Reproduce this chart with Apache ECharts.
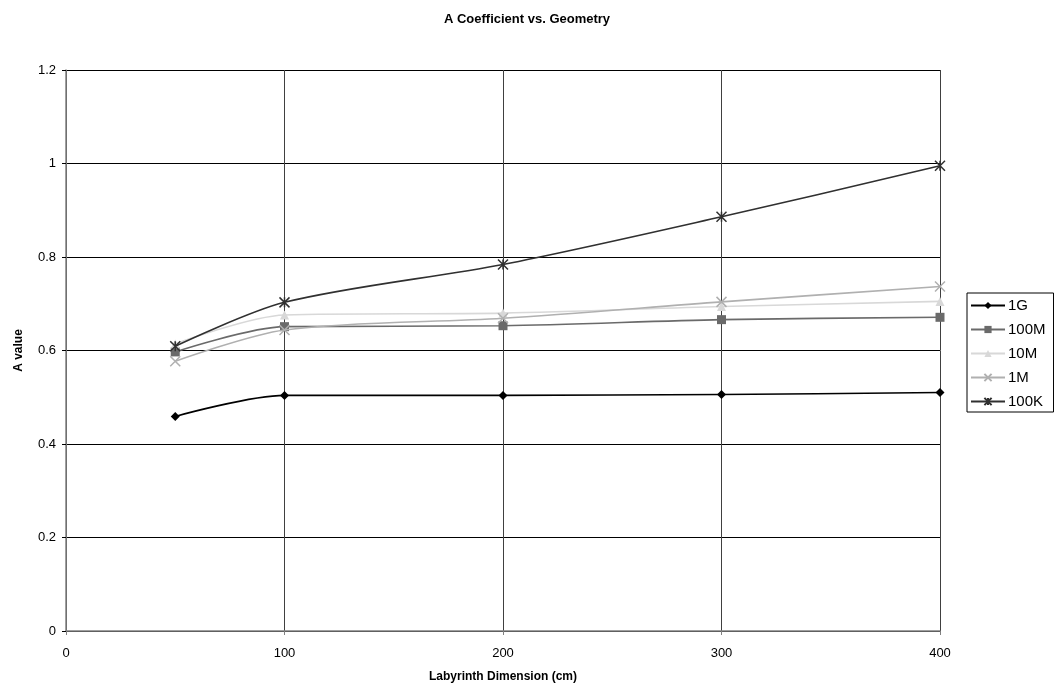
<!DOCTYPE html>
<html>
<head>
<meta charset="utf-8">
<script src="https://cdn.jsdelivr.net/npm/echarts@6/dist/echarts.min.js"></script>
<style>
  html, body { margin: 0; padding: 0; background: #fff; }
  #chart { width: 1054px; height: 696px; }
</style>
</head>
<body>
<div id="chart"></div>
<script>
// Labyrinth dimension (cm) for each measurement
const dimensions = [50, 100, 200, 300, 400];

// A value per frequency
const seriesNames = ['1G', '100M', '10M', '1M', '100K'];
const values1G   = [0.459, 0.504, 0.504, 0.506, 0.510];
const values100M = [0.597, 0.651, 0.653, 0.666, 0.671];
const values10M  = [0.614, 0.676, 0.680, 0.694, 0.705];
const values1M   = [0.577, 0.644, 0.669, 0.704, 0.737];
const values100K = [0.609, 0.703, 0.784, 0.886, 0.995];

const allValues = [values1G, values100M, values10M, values1M, values100K];
const colors  = ['#000000', '#6a6a6a', '#d8d8d8', '#b0b0b0', '#303030'];
const symbols = ['diamond', 'rect', 'triangle', 'path://M0,0L10,10M10,0L0,10', 'path://M0,0L10,10M10,0L0,10M5,0L5,10'];
const symbolSizes = [9, 9, 9, 10, 10];

const font = 'Liberation Sans, Arial, sans-serif';

const series = seriesNames.map((name, i) => {
  const isCross = i >= 3;
  return {
    name: name,
    type: 'line',
    smooth: 0.3,
    data: dimensions.map((d, j) => [d, allValues[i][j]]),
    symbol: symbols[i],
    symbolSize: symbolSizes[i],
    showAllSymbol: true,
    lineStyle: { color: colors[i], width: 1.6 },
    itemStyle: isCross
      ? { color: 'transparent', borderColor: colors[i], borderWidth: 1.5 }
      : { color: colors[i], borderWidth: 0 },
    z: 3 + i
  };
});

const chart = echarts.init(document.getElementById('chart'), null, { renderer: 'canvas' });
chart.setOption({
  animation: false,
  backgroundColor: '#ffffff',
  title: {
    text: 'A Coefficient vs. Geometry',
    left: 'center',
    top: 8,
    textStyle: { fontFamily: font, fontSize: 13, fontWeight: 'bold', color: '#000' }
  },
  legend: {
    orient: 'vertical',
    left: 967,
    top: 293,
    itemGap: 9,
    itemWidth: 34,
    itemHeight: 9,
    padding: [5, 8, 3, 3],
    borderColor: '#000',
    borderWidth: 1,
    borderRadius: 0,
    textStyle: { fontFamily: font, fontSize: 15, lineHeight: 14, color: '#000', padding: [0, 0, 0, -2] },
    data: seriesNames
  },
  grid: { left: 66, right: 114, top: 70, bottom: 65, containLabel: false },
  xAxis: {
    type: 'value',
    min: 0,
    max: 400,
    interval: 100,
    name: 'Labyrinth Dimension (cm)',
    nameLocation: 'middle',
    nameGap: 40,
    nameTextStyle: { fontFamily: font, fontSize: 12, fontWeight: 'bold', color: '#000' },
    axisLine: { show: true, onZero: false, lineStyle: { color: '#808080', width: 1.5 } },
    axisTick: { show: true, inside: false, length: 4, lineStyle: { color: '#808080' } },
    axisLabel: { fontFamily: font, fontSize: 13, color: '#000', margin: 16 },
    splitLine: { show: true, lineStyle: { color: '#404040', width: 1 } }
  },
  yAxis: {
    type: 'value',
    min: 0,
    max: 1.2,
    interval: 0.2,
    name: 'A value',
    nameLocation: 'middle',
    nameGap: 41,
    nameRotate: 90,
    nameTextStyle: { fontFamily: font, fontSize: 12, fontWeight: 'bold', color: '#000' },
    axisLine: { show: true, lineStyle: { color: '#808080', width: 1.5 } },
    axisTick: { show: true, length: 4, lineStyle: { color: '#000' } },
    axisLabel: { fontFamily: font, fontSize: 13, color: '#000', margin: 10 },
    splitLine: { show: true, lineStyle: { color: '#000', width: 1 } }
  },
  series: series
});
</script>
</body>
</html>
